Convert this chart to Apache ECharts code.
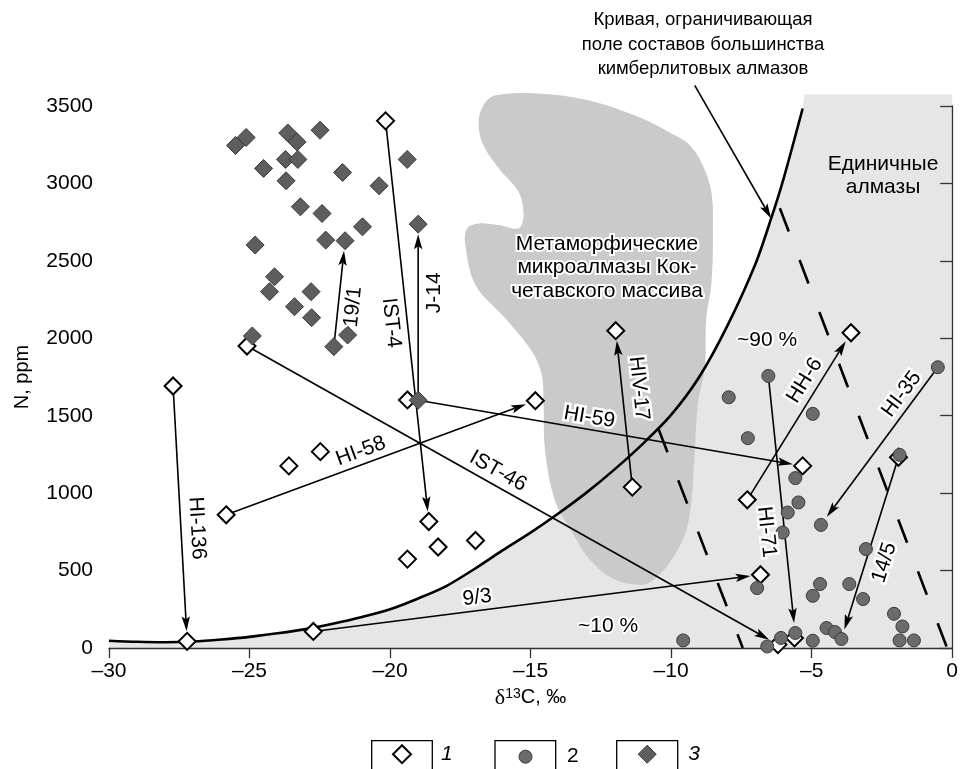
<!DOCTYPE html>
<html>
<head>
<meta charset="utf-8">
<script src="https://cdn.jsdelivr.net/npm/echarts@6/dist/echarts.min.js"></script>
<style>
  html, body { margin: 0; padding: 0; background: #fff; }
  #chart { width: 961px; height: 769px; }
</style>
</head>
<body>
<div id="chart"></div>
<script>
// ---- data: δ13C (‰) vs N (ppm) ----
// group 1: open diamonds
const group1 = [
  [-20.16, 3404], [-27.72, 1692], [-27.22, 43], [-25.09, 1950], [-19.38, 1602],
  [-25.83, 860], [-23.6, 1176], [-22.48, 1268], [-14.83, 1597], [-18.62, 817],
  [-18.29, 652], [-19.38, 574], [-16.96, 694], [-22.73, 107], [-11.97, 2049],
  [-11.38, 1039], [-6.82, 473], [-7.29, 957], [-3.6, 2036], [-5.32, 1176],
  [-6.2, 22], [-5.61, 65], [-1.91, 1232]
];
// group 2: grey circles
const group2 = [
  [-6.54, 1757], [-7.95, 1619], [-7.27, 1355], [-4.96, 1512], [-0.51, 1813],
  [-5.58, 1097], [-5.47, 940], [-5.85, 875], [-6.03, 746], [-4.67, 795],
  [-3.07, 639], [-6.94, 387], [-4.7, 413], [-4.96, 337], [-3.66, 413],
  [-3.17, 316], [-2.07, 221], [-1.77, 139], [-4.47, 129], [-4.17, 103],
  [-3.94, 58], [-4.96, 47], [-5.58, 97], [-6.09, 65], [-6.58, 10],
  [-1.87, 49], [-1.36, 49], [-1.87, 1247], [-9.57, 49]
];
// group 3: dark diamonds
const group3 = [
  [-25.5, 3245], [-25.12, 3297], [-23.64, 3326], [-23.31, 3268], [-22.49, 3344],
  [-24.5, 3097], [-23.72, 3155], [-23.28, 3155], [-21.69, 3071], [-19.39, 3155],
  [-23.7, 3017], [-20.39, 2985], [-23.19, 2849], [-22.42, 2806], [-19.0, 2737],
  [-20.98, 2720], [-22.29, 2634], [-21.6, 2630], [-24.8, 2602], [-24.11, 2397],
  [-24.29, 2301], [-22.81, 2301], [-23.4, 2204], [-22.79, 2133], [-24.9, 2015],
  [-21.51, 2021], [-22.0, 1946], [-19.0, 1600]
];

// growth-zone arrows (from -> to)
const arrowNames = ['19/1', 'IST-4', 'J-14', 'HI-59', 'HI-58', 'IST-46', 'HI-136',
                    '9/3', 'HIV-17', 'HH-6', 'HI-71', 'HI-35', '14/5'];
const arrowFrom = [
  [-22.0, 1946], [-20.16, 3404], [-19.0, 1600], [-19.0, 1600], [-25.83, 860],
  [-25.09, 1950], [-27.72, 1692], [-22.73, 107], [-11.38, 1039], [-7.29, 957],
  [-6.54, 1757], [-0.51, 1813], [-1.91, 1232]
];
const arrowTo = [
  [-21.6, 2630], [-18.62, 817], [-19.0, 2737], [-5.32, 1176], [-14.83, 1597],
  [-6.2, 22], [-27.22, 43], [-6.82, 473], [-11.97, 2049], [-3.6, 2036],
  [-5.59, 97], [-4.67, 795], [-3.94, 58]
];

// curve bounding the field of most kimberlite diamonds
const boundaryCurve = [
  [-30, 47], [-29, 40], [-28, 37], [-27, 42], [-26, 55], [-25, 72], [-24, 95],
  [-23, 122], [-22, 158], [-21, 200], [-20, 250], [-19, 320], [-18, 400],
  [-17, 510], [-16, 630], [-15, 745], [-14, 870], [-13, 1005], [-12, 1155],
  [-11, 1320], [-10, 1505], [-9, 1750], [-8, 2080], [-7, 2480], [-6.44, 2774],
  [-6, 3030], [-5.32, 3484]
];
// upper-right corners of the light field beyond the curve
const fieldTop = [[-5.25, 3576], [0, 3576], [0, 0], [-30, 0]];

// Kokchetav metamorphic microdiamond field outline
const kokchetavField = [
  [-16.25, 3570], [-14.72, 3581], [-12.94, 3537], [-11.17, 3430], [-9.99, 3323],
  [-9.40, 3258], [-8.93, 3139], [-8.57, 2946], [-8.51, 2666], [-8.57, 2344],
  [-8.75, 2131], [-8.80, 1808], [-9.04, 1591], [-9.16, 1268], [-9.28, 946],
  [-9.51, 731], [-10.11, 537], [-10.70, 430], [-11.17, 408], [-12.12, 452],
  [-12.94, 581], [-13.54, 752], [-14.12, 946], [-14.48, 1268], [-14.54, 1591],
  [-14.60, 1763], [-14.95, 1914], [-15.90, 2129], [-16.96, 2344], [-17.32, 2602],
  [-17.26, 2710], [-16.84, 2742], [-16.13, 2731], [-15.43, 2710], [-15.25, 2795],
  [-15.43, 2946], [-16.13, 3097], [-16.73, 3268], [-16.84, 3419], [-16.60, 3526]
];

// dashed isolines (~90 % / ~10 %)
const isolineA = [[-10.64, 1505], [-7.45, 0]];
const isolineB = [[-6.13, 2840], [-0.18, 0]];

// pointer from the curve caption to the curve
const captionPointer = [[-9.16, 3633], [-6.44, 2774]];

// ---- layout of arrow captions: position along arrow, side offset (px), reversed reading ----
const arrowLabelLayout = [
  { t: 0.39, off: -15, flip: false },
  { t: 0.50, off: -16, flip: false },
  { t: 0.61, off: -16, flip: false },
  { t: 0.44, off: 12, flip: false },
  { t: 0.45, off: 13, flip: false },
  { t: 0.46, off: 14, flip: false },
  { t: 0.56, off: 16, flip: false },
  { t: 0.37, off: 13, flip: false },
  { t: 0.62, off: 17, flip: true },
  { t: 0.67, off: 14, flip: false },
  { t: 0.60, off: -18, flip: false },
  { t: 0.22, off: 13, flip: true },
  { t: 0.55, off: -18, flip: true }
];

const FONT = '"Liberation Sans", Arial, Helvetica, sans-serif';
const chart = echarts.init(document.getElementById('chart'), null, { renderer: 'canvas' });

function arrowGraphic(p1, p2, gap) {
  const dx = p2[0] - p1[0], dy = p2[1] - p1[1];
  const L = Math.hypot(dx, dy);
  const ux = dx / L, uy = dy / L, nx = -uy, ny = ux;
  const tip = [p2[0] - ux * gap, p2[1] - uy * gap];
  const headLen = 15, headHalf = 4.2, notch = 12;
  const base = [tip[0] - ux * headLen, tip[1] - uy * headLen];
  const inner = [tip[0] - ux * notch, tip[1] - uy * notch];
  return {
    type: 'group',
    children: [
      { type: 'line', shape: { x1: p1[0], y1: p1[1], x2: inner[0], y2: inner[1] },
        style: { stroke: '#000', lineWidth: 1.6 } },
      { type: 'polygon',
        shape: { points: [tip, [base[0] + nx * headHalf, base[1] + ny * headHalf], inner,
                          [base[0] - nx * headHalf, base[1] - ny * headHalf]] },
        style: { fill: '#000' } }
    ]
  };
}

function textGraphic(x, y, text, opts) {
  return {
    type: 'text', x: x, y: y, silent: true, z: 100,
    style: Object.assign({
      text: text, fill: '#000', font: '18px ' + FONT,
      align: 'center', verticalAlign: 'top'
    }, opts || {})
  };
}

const option = {
  animation: false,
  backgroundColor: '#fff',
  grid: { left: 109, right: 6, top: 106, bottom: 121, containLabel: false },
  xAxis: {
    type: 'value', min: -30, max: 0, interval: 5,
    name: '{d|δ}{s|13}{n|C, ‰}', nameLocation: 'middle', nameGap: 36,
    nameTextStyle: {
      color: '#000',
      rich: {
        d: { fontFamily: '"Liberation Serif", "DejaVu Serif", serif', fontSize: 22, color: '#000' },
        s: { fontFamily: FONT, fontSize: 14, color: '#000', verticalAlign: 'top' },
        n: { fontFamily: FONT, fontSize: 20, color: '#000' }
      }
    },
    axisLine: { onZero: false, lineStyle: { color: '#333', width: 1.3 } },
    axisTick: { length: 10, lineStyle: { color: '#333', width: 1.3 } },
    axisLabel: { margin: 13, fontSize: 21, fontFamily: FONT, color: '#000',
                 formatter: v => String(v).replace('-', '\u2013') },
    splitLine: { show: false }
  },
  yAxis: {
    type: 'value', min: 0, max: 3500, interval: 500,
    name: 'N, ppm', nameLocation: 'middle', nameGap: 77, nameRotate: 90,
    nameTextStyle: { fontFamily: FONT, fontSize: 20, color: '#000' },
    axisLine: { show: true, lineStyle: { color: '#333', width: 1.3 } },
    axisTick: { show: true, length: 12, lineStyle: { color: '#333', width: 1.3 } },
    axisLabel: { margin: 16, fontSize: 21, fontFamily: FONT, color: '#000',
                 formatter: v => String(v) },
    splitLine: { show: false }
  },
  legend: [
    { data: [{ name: '1', textStyle: { fontStyle: 'italic' } }], left: 392, top: 743.7,
      itemWidth: 18, itemHeight: 18, padding: 0, selectedMode: false,
      itemStyle: { borderWidth: 2 },
      textStyle: { fontSize: 21, fontFamily: FONT, color: '#000', padding: [0, 0, 0, 25] } },
    { data: [{ name: '2' }], left: 518.5, top: 746.2,
      itemWidth: 13, itemHeight: 13, padding: 0, selectedMode: false,
      itemStyle: { borderWidth: 1 },
      textStyle: { fontSize: 21, fontFamily: FONT, color: '#000', padding: [0, 0, 0, 30] } },
    { data: [{ name: '3', textStyle: { fontStyle: 'italic' } }], left: 637.7, top: 743.7,
      itemWidth: 18, itemHeight: 18, padding: 0, selectedMode: false,
      itemStyle: { borderWidth: 1 },
      textStyle: { fontSize: 21, fontFamily: FONT, color: '#000', padding: [0, 0, 0, 27] } }
  ],
  graphic: [
    // legend frames
    { type: 'rect', shape: { x: 371.7, y: 740.7, width: 60.6, height: 40 },
      style: { fill: 'none', stroke: '#000', lineWidth: 1.3 }, silent: true },
    { type: 'rect', shape: { x: 495, y: 740.7, width: 60.7, height: 40 },
      style: { fill: 'none', stroke: '#000', lineWidth: 1.3 }, silent: true },
    { type: 'rect', shape: { x: 616.7, y: 740.7, width: 61, height: 40 },
      style: { fill: 'none', stroke: '#000', lineWidth: 1.3 }, silent: true },
    // captions
    textGraphic(703, 8, 'Кривая, ограничивающая\nполе составов большинства\nкимберлитовых алмазов',
                { lineHeight: 24.5, font: '18.5px ' + FONT }),
    textGraphic(883, 153, 'Единичные\nалмазы', { lineHeight: 22.5, font: '21px ' + FONT }),
    textGraphic(607, 232, 'Метаморфические\nмикроалмазы Кок-\nчетавского массива',
                { lineHeight: 23.5, font: '21px ' + FONT, stroke: '#fff', lineWidth: 4 }),
    textGraphic(767, 330, '~90 %', { font: '21px ' + FONT, stroke: '#fff', lineWidth: 4 }),
    textGraphic(608, 616, '~10 %', { font: '21px ' + FONT, stroke: '#fff', lineWidth: 4 })
  ],
  series: [
    { // light field under the boundary curve
      type: 'custom', name: 'field', silent: true, z: -2, clip: false,
      data: [[-30, 0]],
      renderItem: (params, api) => ({
        type: 'polygon',
        shape: { points: boundaryCurve.concat(fieldTop).map(p => api.coord(p)) },
        style: { fill: '#e6e6e6' }
      })
    },
    { // Kokchetav field
      type: 'custom', name: 'kokchetav', silent: true, z: -1, clip: false,
      data: [[-12, 2000]],
      renderItem: (params, api) => ({
        type: 'polygon',
        shape: { points: kokchetavField.map(p => api.coord(p)), smooth: 0.35 },
        style: { fill: '#cacaca' }
      })
    },
    { type: 'line', name: 'isoA', data: isolineA, symbol: 'none', silent: true, z: 1,
      lineStyle: { color: '#000', width: 2.6, type: [25, 30], dashOffset: 40 } },
    { type: 'line', name: 'isoB', data: isolineB, symbol: 'none', silent: true, z: 1,
      lineStyle: { color: '#000', width: 2.6, type: [25, 30.5], dashOffset: 0 } },
    { type: 'line', name: 'curve', data: boundaryCurve, symbol: 'none', smooth: 0.3,
      silent: true, z: 2, lineStyle: { color: '#000', width: 2.6 } },
    { // caption pointer
      type: 'custom', name: 'pointer', silent: true, z: 3, clip: false,
      data: [captionPointer[0].concat(captionPointer[1])],
      encode: { x: [0, 2], y: [1, 3] },
      renderItem: (params, api) => arrowGraphic(
        api.coord([api.value(0), api.value(1)]), api.coord([api.value(2), api.value(3)]), 0)
    },
    { // arrows between growth zones
      type: 'custom', name: 'arrows', silent: true, z: 3, clip: false,
      data: arrowFrom.map((p, i) => p.concat(arrowTo[i])),
      encode: { x: [0, 2], y: [1, 3] },
      renderItem: (params, api) => arrowGraphic(
        api.coord([api.value(0), api.value(1)]), api.coord([api.value(2), api.value(3)]), 10)
    },
    { type: 'scatter', name: '1', data: group1, symbol: 'diamond', symbolSize: 17, z: 4,
      silent: true, itemStyle: { color: '#fff', borderColor: '#000', borderWidth: 2, opacity: 1 } },
    { type: 'scatter', name: '2', data: group2, symbol: 'circle', symbolSize: 13, z: 5,
      silent: true, itemStyle: { color: '#6b6b6b', borderColor: '#3c3c3c', borderWidth: 1, opacity: 1 } },
    { type: 'scatter', name: '3', data: group3, symbol: 'diamond', symbolSize: 18, z: 6,
      silent: true, itemStyle: { color: '#5e5e5e', borderColor: '#3a3a3a', borderWidth: 1, opacity: 1 } },
    { // arrow captions
      type: 'custom', name: 'arrowLabels', silent: true, z: 7, clip: false,
      data: arrowFrom.map((p, i) => p.concat(arrowTo[i])),
      encode: { x: [0, 2], y: [1, 3] },
      renderItem: (params, api) => {
        const i = params.dataIndex;
        const lay = arrowLabelLayout[i];
        const p1 = api.coord([api.value(0), api.value(1)]);
        const p2 = api.coord([api.value(2), api.value(3)]);
        const dx = p2[0] - p1[0], dy = p2[1] - p1[1];
        const rx = lay.flip ? -dx : dx, ry = lay.flip ? -dy : dy;
        const th = Math.atan2(-ry, rx);
        const cx = p1[0] + lay.t * dx - lay.off * Math.sin(th);
        const cy = p1[1] + lay.t * dy - lay.off * Math.cos(th);
        return {
          type: 'text', x: cx, y: cy, rotation: th,
          style: { text: arrowNames[i], font: '21px ' + FONT, fill: '#000',
                   align: 'center', verticalAlign: 'middle', stroke: '#fff', lineWidth: 5 }
        };
      }
    }
  ]
};
chart.setOption(option);
</script>
</body>
</html>
